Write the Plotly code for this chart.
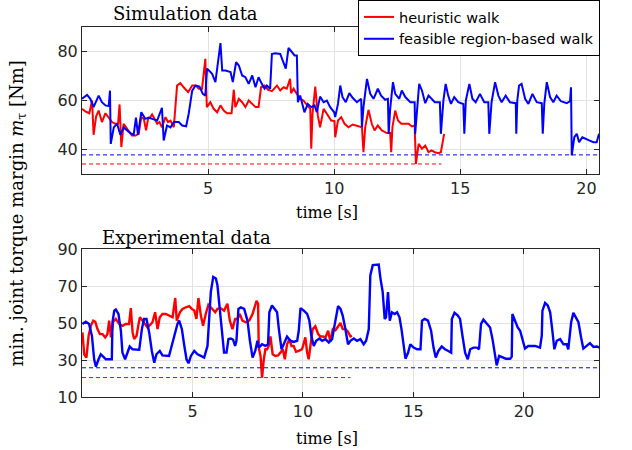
import plotly.graph_objects as go

# ---------------- data ----------------
sim_blue_t = [0.00,0.20,0.33,0.46,0.66,0.79,0.93,1.06,1.11,1.14,1.26,1.39,1.52,1.65,1.79,1.92,2.05,2.14,2.22,2.35,2.51,2.65,2.78,2.98,3.17,3.24,3.37,3.51,3.64,3.84,3.97,4.13,4.23,4.37,4.50,4.66,4.79,4.89,4.96,5.16,5.29,5.42,5.49,5.56,5.69,5.89,5.98,6.11,6.22,6.35,6.48,6.61,6.75,6.88,
              7.00,7.13,7.24,7.33,7.46,7.53,7.66,7.86,7.99,8.08,8.19,8.29,8.43,8.52,8.56,8.65,8.72,8.82,8.95,9.09,9.22,9.31,9.44,9.58,9.71,9.84,10.00,10.04,10.15,10.24,10.33,10.46,10.60,10.73,10.90,11.07,11.10,11.16,11.30,11.43,11.56,11.73,11.86,12.02,12.13,12.16,12.22,12.33,12.42,12.58,12.68,12.82,13.02,13.19,13.21,13.28,13.37,13.48,13.61,13.74,
              13.86,13.99,14.19,14.23,14.33,14.42,14.52,14.63,14.76,14.92,15.12,15.16,15.22,15.36,15.48,15.61,15.78,15.95,16.11,16.15,16.24,16.38,16.51,16.64,16.80,16.97,17.20,17.22,17.26,17.33,17.43,17.57,17.70,17.86,18.03,18.23,18.27,18.33,18.43,18.56,18.69,18.82,18.99,19.22,19.35,19.39,19.42,19.52,19.62,19.71,19.84,19.97,20.11,20.28,20.41,20.50]
sim_blue_v = [60.7,62.3,60.7,57.3,62.0,59.3,58.0,57.7,64.0,42.3,49.0,50.5,46.0,49.0,47.8,46.7,46.0,53.0,46.0,55.2,52.5,53.0,52.5,51.8,57.0,43.7,49.8,49.0,51.2,51.2,49.8,49.5,54.6,64.0,66.1,65.7,62.7,62.0,73.0,70.9,67.5,77.7,83.4,72.2,72.2,71.6,67.5,75.6,74.3,70.2,69.5,66.8,70.2,65.4,
              69.5,66.8,64.8,66.1,64.8,79.0,79.3,79.0,75.0,73.0,81.5,80.1,78.4,78.4,59.3,62.0,59.3,55.2,58.6,57.3,58.0,55.2,61.6,59.3,60.0,57.3,55.2,53.2,58.6,66.1,61.4,59.3,63.0,61.1,59.3,60.7,49.1,57.3,68.8,62.7,60.7,64.8,62.0,60.3,60.7,46.4,56.6,67.5,62.7,60.7,64.1,61.4,59.3,59.3,46.4,57.3,66.8,64.1,58.9,62.0,
              60.7,59.3,59.3,46.4,60.0,66.8,62.0,58.6,61.4,59.3,58.6,46.4,60.0,66.8,60.7,59.3,62.7,59.3,59.3,46.4,59.3,67.5,62.0,59.3,62.0,59.3,58.9,46.4,60.0,66.1,66.8,60.7,58.6,62.7,59.3,58.9,46.4,58.6,67.5,61.4,59.3,62.0,59.7,58.9,59.7,65.4,37.6,45.0,46.4,43.0,45.0,44.3,43.7,43.0,43.0,46.4]

sim_red_t = [0.00,0.13,0.29,0.40,0.46,0.56,0.66,0.79,0.93,1.06,1.19,1.32,1.43,1.49,1.56,1.65,1.75,1.85,1.98,2.12,2.25,2.35,2.45,2.54,2.62,2.71,2.78,2.88,2.98,3.07,3.17,3.31,3.41,3.51,3.64,3.77,3.90,4.03,4.21,4.37,4.52,4.63,4.76,4.89,4.95,5.09,5.22,5.36,5.49,5.62,5.75,5.93,6.02,6.08,6.22,6.35,6.48,6.61,6.75,6.88,
             7.00,7.10,7.24,7.37,7.53,7.73,7.86,7.99,8.12,8.25,8.29,8.39,8.52,8.65,8.78,8.92,9.05,9.09,9.14,9.25,9.35,9.44,9.58,9.71,9.88,10.01,10.04,10.15,10.28,10.41,10.57,10.73,10.90,11.10,11.16,11.23,11.36,11.49,11.60,11.73,11.89,12.09,12.22,12.26,12.31,12.42,12.53,12.66,12.79,12.95,13.08,13.19,13.24,13.35,13.48,13.61,13.74,
             13.86,13.99,14.13,14.23,14.36]
sim_red_v = [56.6,55.6,54.8,60.0,46.0,53.5,55.9,51.2,54.8,53.2,51.2,50.5,50.5,58.4,41.0,50.5,49.1,47.8,45.7,45.7,46.4,53.2,52.5,47.8,52.5,53.2,54.3,52.5,50.5,51.2,49.1,53.2,51.2,51.8,49.1,66.1,67.1,65.4,63.4,66.1,66.1,64.8,64.8,77.0,57.3,59.3,56.6,55.2,58.0,55.9,54.8,54.8,64.4,57.3,60.7,59.3,57.3,60.0,58.6,57.3,
             57.3,65.4,66.1,64.4,63.8,66.1,64.1,65.4,64.8,68.8,63.0,64.8,62.7,60.7,60.0,58.0,56.6,40.3,54.6,65.7,53.9,49.1,56.6,54.6,51.8,51.6,45.0,51.8,53.2,50.5,49.1,50.2,49.8,49.1,38.9,49.1,56.2,50.5,47.8,49.8,47.8,46.7,46.7,38.9,49.1,55.9,51.8,50.5,50.5,50.5,49.4,49.8,34.1,42.3,40.3,41.6,38.9,
             39.6,38.9,38.5,38.9,46.4]

exp_blue_t = [0.02,0.17,0.32,0.45,0.55,0.63,0.75,0.85,0.96,1.08,1.23,1.35,1.38,1.46,1.53,1.65,1.76,1.83,1.95,2.06,2.16,2.29,2.44,2.59,2.71,2.81,2.92,3.04,3.16,3.27,3.37,3.52,3.64,3.79,3.94,4.02,4.17,4.32,4.40,4.52,4.62,4.73,4.82,4.93,5.08,5.23,5.38,5.53,5.68,5.75,5.83,5.94,6.06,6.13,6.21,6.33,6.43,6.54,6.63,6.74,6.84,6.93,6.99,7.08,7.19,7.34,7.49,7.60,7.72,7.84,7.94,
              8.00,8.15,8.30,8.42,8.48,8.60,8.72,8.83,8.91,9.03,9.13,9.28,9.43,9.58,9.74,9.81,9.89,10.04,10.19,10.29,10.38,10.49,10.60,10.75,10.87,11.02,11.17,11.32,11.47,11.59,11.70,11.80,11.92,12.04,12.15,12.30,12.45,12.60,12.75,12.86,12.98,13.05,13.16,13.28,13.43,13.51,13.61,13.70,13.76,13.85,13.93,14.03,14.15,14.26,14.37,14.46,14.56,14.64,14.76,14.86,15.01,15.17,15.32,15.39,15.51,15.66,
              15.80,15.91,16.01,16.13,16.28,16.43,16.58,16.71,16.74,16.86,17.01,17.11,17.22,17.34,17.46,17.57,17.72,17.87,17.97,18.06,18.17,18.32,18.47,18.58,18.70,18.77,18.88,19.03,19.18,19.38,19.45,19.48,19.60,19.72,19.83,19.93,20.05,20.20,20.36,20.51,20.73,20.81,20.84,20.96,21.08,21.19,21.29,21.38,21.49,21.64,21.79,21.94,22.01,22.14,22.24,22.35,22.47,22.59,22.69,22.84,22.99,23.15,23.30,23.43]
exp_blue_v = [49.5,50.7,49.5,43.0,30.4,26.4,30.4,33.1,31.8,30.4,30.4,30.4,50.4,56.7,57.3,54.9,45.8,34.0,30.4,34.0,37.3,35.8,35.8,35.5,46.7,52.2,52.2,44.9,34.9,28.5,33.1,34.9,32.5,32.2,32.2,35.8,43.1,49.5,51.3,46.7,38.5,30.4,28.2,32.2,34.9,33.1,32.2,31.3,37.6,54.0,66.7,74.9,74.0,70.4,59.5,44.9,34.0,34.0,41.3,41.6,40.9,37.6,40.4,57.6,58.5,57.6,51.3,40.4,31.3,34.9,40.4,
              36.7,38.5,37.6,38.5,55.8,59.5,57.6,55.8,46.7,35.8,38.5,42.7,40.4,39.8,40.4,45.8,58.0,56.7,54.9,51.3,43.1,37.6,40.4,41.6,40.4,41.3,39.5,41.3,51.3,59.1,57.6,54.0,46.7,38.5,40.4,41.6,40.4,41.3,38.5,40.4,46.7,75.8,81.3,81.6,81.6,74.0,66.7,52.2,53.1,66.7,51.3,55.8,54.9,55.8,53.1,46.7,36.7,30.7,34.0,38.5,36.7,35.8,35.8,51.3,52.2,51.3,
              45.8,36.7,31.3,34.9,37.3,35.8,34.9,34.0,52.2,55.5,54.0,52.2,43.1,34.0,30.4,35.8,36.7,36.7,35.8,49.5,51.8,49.5,47.6,41.3,30.4,27.1,32.2,31.3,30.7,30.7,31.8,54.9,51.3,47.6,45.8,41.3,36.2,37.6,37.6,37.6,36.7,43.1,56.7,60.9,59.5,55.8,45.8,35.8,40.4,41.3,38.5,38.5,35.8,50.4,55.5,53.1,50.4,42.2,36.2,37.6,39.1,37.1,37.3,36.7]

exp_red_t = [0.02,0.10,0.20,0.30,0.40,0.51,0.60,0.70,0.81,0.93,1.05,1.15,1.23,1.31,1.41,1.53,1.68,1.83,1.98,2.13,2.21,2.29,2.36,2.47,2.56,2.62,2.74,2.86,2.96,3.07,3.19,3.31,3.42,3.52,3.64,3.79,3.94,4.10,4.22,4.29,4.43,4.55,4.70,4.85,4.97,5.08,5.18,5.27,5.38,5.48,5.60,5.72,5.87,6.03,6.13,6.28,6.43,6.58,6.69,6.81,6.93,7.04,7.14,7.26,7.41,7.57,7.72,7.84,7.90,7.97,
             8.00,8.08,8.15,8.23,8.30,8.38,8.45,8.53,8.63,8.75,8.88,8.98,9.09,9.18,9.28,9.39,9.48,9.58,9.69,9.81,9.96,10.11,10.19,10.26,10.34,10.44,10.56,10.69,10.79,10.90,11.02,11.14,11.24,11.35,11.47,11.59,11.70,11.80,11.92,12.04,12.15,12.22]
exp_red_v = [44.9,33.1,31.3,43.1,48.5,51.3,50.7,46.7,44.0,44.0,42.2,44.0,51.3,42.2,50.7,52.2,49.5,48.5,49.5,49.5,58.0,44.9,41.3,43.1,49.5,53.1,51.3,49.5,47.6,48.9,50.4,55.8,46.7,53.1,54.9,54.9,54.0,53.1,63.5,51.3,55.8,57.6,58.5,59.1,57.6,56.7,52.2,63.5,54.0,48.5,54.9,59.8,58.0,55.8,57.6,58.0,56.7,60.4,51.3,46.7,52.2,52.2,54.9,51.3,50.4,51.3,54.9,60.4,62.0,60.4,
             36.7,32.2,20.4,30.4,35.8,35.8,37.6,42.7,33.1,32.2,32.5,34.0,35.8,30.4,38.5,41.3,37.6,37.6,34.4,34.9,35.8,42.2,34.0,30.4,38.5,46.7,48.2,44.0,42.7,42.7,42.2,45.8,39.8,46.7,46.1,48.5,50.0,46.7,46.7,45.3,42.7,43.1]

# thresholds: (value, end time)
sim_blue_thr = [37.8, 20.5]
sim_red_thr = [34.1, 14.25]
exp_blue_thr = [25.8, 23.4]
exp_red_thr = [20.5, 12.15]

sim_x_ticks = [5, 10, 15, 20]
sim_y_ticks = [40, 60, 80]
exp_x_ticks = [5, 10, 15, 20]
exp_y_ticks = [10, 30, 50, 70, 90]

RED = "#ff0000"
BLUE = "#0000ff"

fig = go.Figure()
fig.add_trace(go.Scatter(x=sim_red_t, y=sim_red_v, mode="lines", line=dict(color=RED, width=2),
                         name="heuristic walk", xaxis="x", yaxis="y"))
fig.add_trace(go.Scatter(x=sim_blue_t, y=sim_blue_v, mode="lines", line=dict(color=BLUE, width=2),
                         name="feasible region-based walk", xaxis="x", yaxis="y"))
fig.add_trace(go.Scatter(x=[0, sim_blue_thr[1]], y=[sim_blue_thr[0]] * 2, mode="lines",
                         line=dict(color=BLUE, width=1, dash="4px,3px"), showlegend=False, xaxis="x", yaxis="y"))
fig.add_trace(go.Scatter(x=[0, sim_red_thr[1]], y=[sim_red_thr[0]] * 2, mode="lines",
                         line=dict(color=RED, width=1, dash="4px,3px"), showlegend=False, xaxis="x", yaxis="y"))

fig.add_trace(go.Scatter(x=exp_red_t, y=exp_red_v, mode="lines", line=dict(color=RED, width=2.4),
                         showlegend=False, xaxis="x2", yaxis="y2"))
fig.add_trace(go.Scatter(x=exp_blue_t, y=exp_blue_v, mode="lines", line=dict(color=BLUE, width=2.4),
                         showlegend=False, xaxis="x2", yaxis="y2"))
fig.add_trace(go.Scatter(x=[0, exp_blue_thr[1]], y=[exp_blue_thr[0]] * 2, mode="lines",
                         line=dict(color=BLUE, width=1, dash="4px,3px"), showlegend=False, xaxis="x2", yaxis="y2"))
fig.add_trace(go.Scatter(x=[0, exp_red_thr[1]], y=[exp_red_thr[0]] * 2, mode="lines",
                         line=dict(color=RED, width=1, dash="4px,3px"), showlegend=False, xaxis="x2", yaxis="y2"))

AX = "#262626"
GRID = "#e3e3e3"
tickfont = dict(family="DejaVu Sans", size=16, color=AX)
common = dict(showline=True, linecolor=AX, linewidth=1, mirror="ticks", ticks="inside", ticklen=5,
              tickcolor=AX, showgrid=True, gridcolor=GRID, gridwidth=1, zeroline=False, tickfont=tickfont)

W, H = 632, 450
ml, mr, mt, mb = 82, 33, 27, 53
ph = H - mt - mb

fig.update_layout(
    width=W, height=H,
    margin=dict(l=ml, r=mr, t=mt, b=mb, autoexpand=False),
    paper_bgcolor="white", plot_bgcolor="white",
    xaxis=dict(domain=[0, 1], range=[0, 20.5], tickvals=sim_x_ticks, anchor="y", **common),
    yaxis=dict(domain=[(397 - 174) / ph, 1], range=[30, 90], tickvals=sim_y_ticks, anchor="x", **common),
    xaxis2=dict(domain=[0, 1], range=[0, 23.4], tickvals=exp_x_ticks, anchor="y2", **common),
    yaxis2=dict(domain=[0, (397 - 249) / ph], range=[10, 90], tickvals=exp_y_ticks, anchor="x2", **common),
    legend=dict(x=(600 - ml) / 517, xanchor="right", y=1 + mt / ph, yanchor="top",
                bgcolor="white", bordercolor="#000000", borderwidth=1,
                font=dict(family="DejaVu Sans", size=14.5, color="#000000"),
                tracegroupgap=0, itemwidth=30),
    showlegend=True,
)

serif = "DejaVu Serif"
ann = [
    dict(text="Simulation data", x=(185 - ml) / 517, y=1 + (mt - 14) / ph, xanchor="center", yanchor="middle",
         font=dict(family=serif, size=18, color="#000")),
    dict(text="Experimental data", x=(186 - ml) / 517, y=(397 - 238) / ph, xanchor="center", yanchor="middle",
         font=dict(family=serif, size=18, color="#000")),
    dict(text="time [s]", x=(327 - ml) / 517, y=(397 - 212) / ph, xanchor="center", yanchor="middle",
         font=dict(family=serif, size=16, color="#000")),
    dict(text="time [s]", x=(327 - ml) / 517, y=(397 - 438) / ph, xanchor="center", yanchor="middle",
         font=dict(family=serif, size=16, color="#000")),
    dict(text="min. joint torque margin <i>m</i><sub>τ</sub> [Nm]", x=(17.5 - ml) / 517, y=(397 - 214) / ph,
         xanchor="center", yanchor="middle", textangle=-90,
         font=dict(family=serif, size=18, color="#000")),
]
for a in ann:
    a.update(xref="paper", yref="paper", showarrow=False)
fig.update_layout(annotations=ann)

fig.write_html("out.html", config={"displayModeBar": False},
               post_script="document.body.style.margin='0';document.body.style.padding='0';document.body.style.overflow='hidden';")
